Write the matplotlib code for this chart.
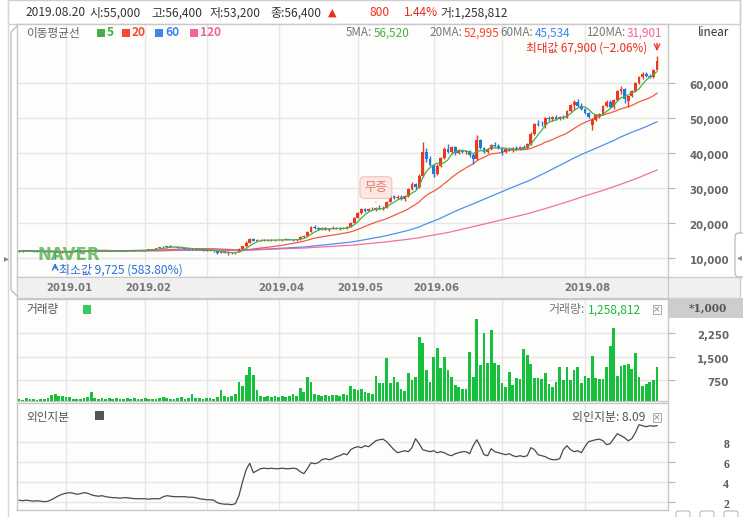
import numpy as np
import pandas as pd
import matplotlib
matplotlib.use('Agg')
import matplotlib.pyplot as plt
import matplotlib.transforms as mtrans
from matplotlib.patches import Rectangle, FancyBboxPatch

plt.rcParams['font.family'] = ['Noto Sans CJK KR', 'DejaVu Sans']

# ---------------- data ----------------
start_date = '2018-12-11'
holidays = ['2018-12-25', '2018-12-31', '2019-01-01', '2019-02-04', '2019-02-05',
            '2019-02-06', '2019-03-01', '2019-05-01', '2019-05-06', '2019-06-06',
            '2019-08-15']
month_tick_labels = ['2019.01', '2019.02', '', '2019.04', '2019.05', '2019.06', '', '2019.08']

opens = [12100, 12000, 12150, 12300, 12050, 11900, 12000, 11850, 11700, 11800,
         12100, 11600, 11750, 11900, 11800, 11950, 12200, 12100, 12150, 12050,
         12150, 12500, 12300, 12200, 12250, 12150, 12200, 12100, 12200, 12100,
         12250, 12350, 12250, 12300, 12200, 12300, 12400, 12500, 12600, 12800,
         13200, 13100, 13400, 13300, 13200, 13000, 12900, 12700, 12600, 12800,
         12600, 12400, 12500, 12200, 12300, 12000, 11600, 11900, 11500, 11700,
         11400, 11800, 12600, 13400, 14500, 15400, 15000, 15200, 15100, 15300,
         15100, 15200, 15300, 15200, 15300, 15400, 15300, 15100, 15400, 16100,
         16400, 17600, 18900, 18600, 18400, 18600, 18200, 18400, 18700, 18500,
         18600, 18500, 19000, 20200, 21600, 22900, 24000, 23600, 24100, 24000,
         24400, 24200, 24500, 26200, 27900, 27200, 27600, 26900, 27700, 29800,
         31300, 30300, 33500, 40500, 38500, 36600, 34000, 36500, 38600, 41200,
         40500, 41800, 40100, 40700, 40400, 40600, 39500, 38300, 43800, 41500,
         40300, 41200, 42500, 42000, 41500, 40300, 41100, 40800, 41600, 41300,
         41800, 41500, 42700, 45600, 48300, 48200, 48000, 50000, 49700, 50300,
         49900, 50500, 50200, 52200, 53700, 54800, 53600, 52700, 51500, 48200,
         49500, 50900, 51200, 53500, 54800, 53300, 55200, 57800, 58500, 55000,
         56400, 57900, 60200, 61800, 62600, 62200, 61700, 63900]
highs = [12300, 12250, 12400, 12350, 12200, 12100, 12150, 12000, 11900, 12200,
         12150, 11900, 12000, 12050, 12000, 12300, 12350, 12250, 12300, 12200,
         12700, 12600, 12400, 12350, 12400, 12300, 12350, 12250, 12300, 12300,
         12450, 12450, 12400, 12450, 12350, 12500, 12600, 12700, 12900, 13300,
         13600, 13500, 13700, 13500, 13400, 13200, 13000, 12900, 12900, 12900,
         12700, 12600, 12600, 12400, 12350, 12100, 12000, 12000, 11800, 11800,
         11900, 12800, 13600, 14800, 15900, 15700, 15400, 15500, 15400, 15500,
         15400, 15600, 15500, 15400, 15700, 15600, 15500, 15500, 16300, 16700,
         17800, 19200, 19500, 18900, 18800, 18800, 18600, 19200, 18900, 18800,
         18900, 19100, 20500, 21900, 23200, 24400, 24500, 24300, 24600, 24700,
         25200, 24800, 26500, 28200, 28200, 28100, 28000, 28000, 30100, 31700,
         31500, 34000, 43300, 41500, 39200, 36800, 36900, 39000, 41700, 42600,
         42200, 42000, 41200, 41200, 40900, 40900, 40100, 45200, 44200, 41900,
         41600, 42800, 43200, 42600, 41700, 41400, 41800, 41900, 42100, 42000,
         42300, 43000, 46000, 48800, 49600, 49200, 50500, 50800, 50600, 51000,
         50800, 51000, 52500, 54100, 55300, 55500, 54300, 53000, 51900, 50000,
         51200, 51600, 53800, 55300, 55100, 55500, 58200, 59200, 58800, 56400,
         58200, 60500, 62200, 63300, 63200, 62600, 64200, 67900]
lows = [11900, 11850, 12000, 12000, 11800, 11750, 11800, 11600, 11500, 11700,
        9725, 11400, 11650, 11700, 11650, 11900, 12000, 11950, 12000, 11900,
        12100, 12200, 12100, 12050, 12100, 12000, 12050, 11950, 12050, 12000,
        12150, 12200, 12100, 12150, 12100, 12200, 12300, 12400, 12500, 12700,
        13000, 13000, 13200, 13100, 12900, 12800, 12600, 12500, 12400, 12500,
        12300, 12200, 12100, 12000, 11900, 11300, 11500, 11400, 11000, 11200,
        11300, 11700, 12500, 13300, 14300, 14800, 14800, 15000, 14900, 15000,
        14900, 15000, 15100, 14900, 15100, 15200, 15000, 15000, 15300, 15900,
        16300, 17400, 18300, 18200, 18100, 18000, 17900, 18300, 18300, 18200,
        18300, 18400, 18900, 20000, 21400, 22700, 23300, 23400, 23800, 23600,
        24000, 23700, 24300, 26000, 26900, 26800, 26700, 26500, 27500, 29500,
        29800, 30000, 33300, 37500, 36300, 33300, 33800, 36200, 38300, 40000,
        39800, 39500, 39700, 40100, 39900, 39000, 37000, 38100, 41200, 40000,
        40000, 41000, 41800, 41200, 39500, 40000, 40600, 40500, 41000, 40900,
        41200, 41300, 42500, 45300, 47800, 47700, 47200, 49300, 49300, 49600,
        49500, 49800, 50000, 51800, 52500, 53300, 52400, 51200, 50000, 46700,
        49300, 50200, 51000, 53200, 53000, 52800, 55000, 57000, 54400, 53200,
        56100, 57600, 59800, 61300, 61800, 61400, 61500, 63700]
closes = [12000, 12150, 12300, 12050, 11900, 12000, 11850, 11700, 11800, 12100,
          11600, 11750, 11900, 11800, 11950, 12200, 12100, 12150, 12050, 12150,
          12500, 12300, 12200, 12250, 12150, 12200, 12100, 12200, 12100, 12250,
          12350, 12250, 12300, 12200, 12300, 12400, 12500, 12600, 12800, 13200,
          13100, 13400, 13300, 13200, 13000, 12900, 12700, 12600, 12800, 12600,
          12400, 12500, 12200, 12300, 12000, 11600, 11900, 11500, 11700, 11400,
          11800, 12600, 13400, 14500, 15400, 15000, 15200, 15100, 15300, 15100,
          15200, 15300, 15200, 15300, 15400, 15300, 15100, 15400, 16100, 16400,
          17600, 18900, 18600, 18400, 18600, 18200, 18400, 18700, 18500, 18600,
          18500, 19000, 20200, 21600, 22900, 24000, 23600, 24100, 24000, 24400,
          24200, 24500, 26200, 27900, 27200, 27600, 26900, 27700, 29800, 31300,
          30300, 33500, 40500, 38500, 36600, 34000, 36500, 38600, 41200, 40500,
          41800, 40100, 40700, 40400, 40600, 39500, 38300, 43800, 41500, 40300,
          41200, 42500, 42000, 41500, 40300, 41100, 40800, 41600, 41300, 41800,
          41500, 42700, 45600, 48300, 48200, 48000, 50000, 49700, 50300, 49900,
          50500, 50200, 52200, 53700, 54800, 53600, 52700, 51500, 50300, 49500,
          50900, 51200, 53500, 54800, 53300, 55200, 57800, 58500, 55600, 56400,
          57900, 60200, 61800, 62600, 62200, 61700, 63900, 66500]
volume_k = [150, 120, 160, 130, 140, 110, 150, 130, 160, 280,
            300, 240, 220, 200, 210, 150, 130, 140, 160, 200,
            350, 180, 150, 170, 140, 160, 130, 180, 150, 140,
            170, 130, 160, 150, 140, 160, 140, 150, 130, 180,
            210, 160, 150, 140, 170, 200, 150, 160, 300, 180,
            170, 150, 160, 180, 140, 200, 430, 230, 200, 220,
            300, 700, 570, 910, 1160, 910, 430, 220, 210, 230,
            200, 240, 210, 230, 200, 250, 300, 230, 480, 350,
            840, 700, 300, 280, 250, 270, 240, 260, 280, 230,
            300, 260, 560, 450, 430, 450, 350, 320, 300, 880,
            640, 650, 1450, 640, 840, 670, 450, 400, 990, 750,
            860, 2120, 1930, 1070, 700, 1500, 1770, 1125, 1500, 1070,
            860, 590, 540, 450, 450, 1660, 860, 2700, 1230, 2250,
            1290, 2360, 1290, 1230, 640, 540, 1020, 590, 800, 770,
            1735, 1550, 1260, 800, 800, 770, 960, 620, 540, 700,
            1160, 750, 1180, 750, 1070, 1160, 660, 880, 800, 1520,
            800, 770, 770, 1160, 1840, 2410, 880, 1200, 1230, 1259,
            1090, 1610, 840, 560, 620, 700, 750, 1160]
foreign_pct = [2.15, 2.1, 2.15, 2.1, 2.05, 2.1, 2.05, 2.0, 2.05, 2.2,
               2.4, 2.6, 2.75, 2.85, 2.9, 2.85, 2.75, 2.8, 2.9, 2.85,
               2.7, 2.6, 2.55, 2.6, 2.5, 2.45, 2.4, 2.4, 2.35, 2.4,
               2.4, 2.35, 2.3, 2.3, 2.3, 2.3, 2.25, 2.3, 2.3, 2.3,
               2.5, 2.6, 2.55, 2.5, 2.5, 2.5, 2.5, 2.45, 2.45, 2.4,
               2.3, 2.25, 2.2, 2.2, 2.15, 1.9, 1.8, 1.75, 1.75, 1.7,
               1.8, 2.6, 4.0, 5.2, 5.85, 4.9, 5.1, 5.3, 5.35, 5.3,
               5.35, 5.3, 5.3, 5.35, 5.3, 5.3, 5.35, 5.3, 5.0, 4.8,
               5.3, 5.9, 5.8, 5.9, 6.2, 6.3, 6.2, 6.3, 6.5, 6.6,
               6.8, 6.7, 7.2, 7.4, 7.5, 7.4, 7.6, 7.5, 7.8, 8.1,
               8.2, 8.25, 8.0, 7.6, 7.2, 6.9, 7.0, 7.1, 7.0, 7.4,
               8.3, 7.8, 7.2, 7.1, 7.0, 7.1, 6.9, 7.0, 6.9, 6.7,
               6.6, 6.8, 6.9, 7.0, 7.0, 6.8, 7.6, 8.2, 7.5, 6.7,
               6.6, 7.3, 7.0, 6.9, 6.8, 6.7, 6.8, 6.6, 6.5, 6.6,
               6.5, 6.6, 7.4, 7.2, 6.7, 6.6, 6.5, 6.3, 6.2, 6.2,
               6.3, 7.2, 7.6, 7.2, 7.0, 7.1, 6.9, 7.5, 8.0, 8.1,
               8.2, 8.25, 8.1, 7.7, 7.8, 8.3, 8.8, 8.6, 8.4, 8.09,
               8.3, 8.9, 9.7, 9.6, 9.5, 9.6, 9.55, 9.6]

ma_periods = [5, 20, 60, 120]
ma_header_values = [56520, 52995, 45534, 31901]
price_ticks = [10000, 20000, 30000, 40000, 50000, 60000]
volume_ticks = [750, 1500, 2250]
foreign_ticks = [2, 4, 6, 8]

header_date = '2019.08.20'
header_fields = [('시', 55000), ('고', 56400), ('저', 53200), ('종', 56400)]
header_change = 800
header_change_pct = 1.44
header_volume = 1258812
header_foreign = 8.09
event_label = '무증'
event_index = 99

# ---------------- colors ----------------
UP = '#f0361f'
DOWN = '#1f77e0'
MA_COLORS = ['#46b046', '#f4482f', '#3d86ec', '#f4609a']
VOL_GREEN = '#17c03b'
GRID = '#e6e6e6'
SPINE = '#c8c8c8'
PLOTBG = '#fdfdfb'

W, H = 743, 517
N = len(closes)
x = np.arange(N)
o = np.array(opens, float); h = np.array(highs, float)
l = np.array(lows, float); c = np.array(closes, float)

dates = pd.bdate_range(start_date, periods=N, freq='C', holidays=holidays)
months = dates.to_period('M')
month_idx = [i for i in range(1, N) if months[i] != months[i - 1]]

XLIM = (-0.58, 180.05)

fig = plt.figure(figsize=(W / 100, H / 100), dpi=100)
fig.patch.set_facecolor('#ffffff')


def rect(x0, y0, x1, y1):
    return [x0 / W, 1 - y1 / H, (x1 - x0) / W, (y1 - y0) / H]


# background layer
bg = fig.add_axes([0, 0, 1, 1], zorder=0)
bg.set_xlim(0, W); bg.set_ylim(H, 0); bg.axis('off')
bg.add_patch(Rectangle((8, 0), 732, 24, fc='#ffffff', ec='#cfcfcf', lw=1))
bg.add_patch(Rectangle((17, 277), 723, 21, fc='#f0f0f0', ec='#cfcfcf', lw=1))
bg.add_patch(Rectangle((668, 298), 75, 20, fc='#cdcdcd', ec='none'))
bg.plot([740, 740], [0, 277], color='#cfcfcf', lw=1)
bg.plot([8, 8], [0, 517], color='#d8d8d8', lw=1)


def style_panel(ax, yt, ylim):
    ax.set_facecolor(PLOTBG)
    ax.set_xlim(*XLIM)
    ax.set_ylim(*ylim)
    ax.set_yticks(yt)
    ax.set_xticks(month_idx)
    ax.grid(True, color=GRID, lw=1)
    ax.set_axisbelow(True)
    ax.tick_params(axis='x', length=0, labelbottom=False)
    ax.tick_params(axis='y', left=False, right=True, direction='out', length=5,
                   color='#b5b5b5', labelleft=False, labelright=False)
    for s in ax.spines.values():
        s.set_color(SPINE)
        s.set_linewidth(1)


def right_labels(ax, vals, texts, xpx, **kw):
    trans = mtrans.blended_transform_factory(ax.transAxes, ax.transData)
    trans = mtrans.offset_copy(trans, fig=fig, x=0, y=-3, units='dots')
    bb = ax.get_position()
    xa = (xpx / W - bb.x0) / bb.width
    for v, t in zip(vals, texts):
        ax.text(xa, v, t, transform=trans, ha='right', va='center', clip_on=False, **kw)


# ---------------- main price panel ----------------
ax = fig.add_axes(rect(17, 24, 668, 277), zorder=2)
style_panel(ax, price_ticks, (4657, 76943))
colors = np.where(c >= o, UP, DOWN)
ax.vlines(x, l, h, colors=colors, lw=1.0, zorder=3)
ax.bar(x, np.maximum(np.abs(c - o), 130), bottom=np.minimum(o, c), width=0.78,
       color=colors, lw=0, zorder=4)
cs = pd.Series(c)
for p, col in zip(ma_periods, MA_COLORS):
    ax.plot(x, cs.rolling(p, min_periods=1).mean(), color=col, lw=0.9,
            alpha=0.9 if p != 5 else 1.0, zorder=5 if p == 5 else 2)
right_labels(ax, price_ticks, [f'{v:,}' for v in price_ticks], 729,
             fontsize=7.4, fontweight='bold', color='#666', family='DejaVu Sans')

# max / min markers
imax = int(np.argmax(h)); imin = int(np.argmin(l))
vmax = h[imax]; vmin = l[imin]; last = c[-1]
ax.annotate('', xy=(imax, vmax + 500), xytext=(imax, vmax + 4300),
            arrowprops=dict(arrowstyle='->', color=UP, lw=1.0), zorder=6)
ax.text(imax - 2.8, vmax + 2300,
        f'최대값 {vmax:,.0f} ({(last / vmax - 1) * 100:.2f}%)'.replace('-', '−'),
        ha='right', va='center', color='#ee2b1c', fontsize=8.4, zorder=6)
ax.annotate('', xy=(imin, vmin - 300), xytext=(imin, vmin - 3400),
            arrowprops=dict(arrowstyle='->', color='#2a6fdc', lw=1.0), zorder=6)
ax.text(imin + 1.2, vmin - 3100, f'최소값 {vmin:,.0f} ({(last / vmin - 1) * 100:.2f}%)',
        ha='left', va='center', color='#2a6fdc', fontsize=8.6, zorder=6)
ax.text(5.2, 11000, 'NAVER', color='#55b34f', alpha=0.8, fontsize=12,
        fontweight='bold', family='DejaVu Sans', va='center', ha='left', zorder=7)

# event box
ev_y = h[event_index] + 2500
ax.annotate(event_label, xy=(event_index, h[event_index] + 1200),
            xytext=(event_index, ev_y + 3000), ha='center', va='center',
            color='#e47b68', fontsize=9, zorder=8,
            bbox=dict(boxstyle='round,pad=0.35', fc='#fde7e2', ec='#f5c3b8', lw=0.8),
            arrowprops=dict(arrowstyle='-', color='#f0b0a0', lw=0.8))

# ---------------- date strip ----------------
axd = fig.add_axes(rect(17, 277, 668, 298), zorder=2)
axd.set_xlim(*XLIM); axd.set_ylim(0, 1)
axd.set_facecolor('#f0f0f0')
axd.set_xticks([]); axd.set_yticks([])
for s in axd.spines.values():
    s.set_color(SPINE)
for mi, lab in zip(month_idx, month_tick_labels):
    if lab:
        axd.text(mi + 0.8, 0.48, lab, ha='center', va='center', color='#777',
                 fontsize=7.3, fontweight='bold', family='DejaVu Sans')

# ---------------- volume panel ----------------
axv = fig.add_axes(rect(17, 299, 668, 401), zorder=2)
style_panel(axv, volume_ticks, (74, 3353))
axv.bar(x, volume_k, width=0.76, color=VOL_GREEN, lw=0, zorder=3)
right_labels(axv, volume_ticks, [f'{v:,}' for v in volume_ticks], 729,
             fontsize=7.4, fontweight='bold', color='#666', family='DejaVu Sans')

# ---------------- foreign ownership panel ----------------
axf = fig.add_axes(rect(17, 403, 668, 510), zorder=2)
style_panel(axf, foreign_ticks, (1.17, 11.87))
axf.plot(x, foreign_pct, color='#4a4a4a', lw=0.9, zorder=3)
right_labels(axf, foreign_ticks, [str(v) for v in foreign_ticks], 729,
             fontsize=8.5, fontweight='bold', color='#555', family='Liberation Serif')

# ---------------- overlay texts ----------------
top = fig.add_axes([0, 0, 1, 1], zorder=10)
top.set_xlim(0, W); top.set_ylim(H, 0); top.axis('off')
top.patch.set_alpha(0)


def T(xp, yp, s, color='#333', size=8.6, ha='left', weight='normal', family=None):
    kw = {}
    if family:
        kw['family'] = family
    top.text(xp, yp, s, color=color, fontsize=size, ha=ha, va='center',
             fontweight=weight, **kw)


# header row
T(26, 13, header_date)
hx = [90, 151, 210, 270]
for (lab, val), xp in zip(header_fields, hx):
    T(xp, 13, f'{lab}:{val:,}')
T(328, 13, '▲', color='#ee2b1c', size=8, family='DejaVu Sans')
T(369, 13, f'{header_change}', color='#ee2b1c')
T(404, 13, f'{header_change_pct:.2f}%', color='#ee2b1c')
T(440, 13, f'거:{header_volume:,}')

# MA legend
T(26, 33, '이동평균선', color='#666', size=8.4)
sq_x = [97, 122, 155, 190]
for p, col, sx in zip(ma_periods, MA_COLORS, sq_x):
    top.add_patch(Rectangle((sx, 29), 8, 8, fc=col, ec='none'))
    T(sx + 10, 33, str(p), color=col, size=8.6, weight='bold')
T(714, 32, 'linear', color='#333', size=8.4, ha='center')

ma_lab_x = [372, 462, 533, 625]
for p, v, col, lx in zip(ma_periods, ma_header_values, MA_COLORS, ma_lab_x):
    T(lx, 33, f'{p}MA:', color='#777', ha='right', size=8.4)
    T(lx + 2, 33, f'{v:,}', color=col, size=8.4)

# volume header
T(26, 310, '거래량', color='#555', size=8.4)
top.add_patch(Rectangle((83, 305), 8, 9, fc='#3cc860', ec='none'))
T(585, 310, '거래량:', color='#777', ha='right')
T(588, 310, f'{header_volume:,}', color='#1fb83e')
T(727, 307.5, '*1,000', color='#555', size=7.6, ha='right', weight='bold', family='DejaVu Serif')

# foreign header
T(26, 417, '외인지분', color='#555', size=8.4)
top.add_patch(Rectangle((95, 411), 9, 9, fc='#555555', ec='none'))
T(645, 418, f'외인지분: {header_foreign}', color='#555', ha='right')

for yy in (310, 418):
    top.add_patch(Rectangle((653, yy - 5), 8, 9, fc='#fafafa', ec='#aaaaaa', lw=0.7))
    top.text(657, yy - 0.5, '×', color='#888', fontsize=6.5, ha='center', va='center',
             family='DejaVu Sans')

# side tabs & small buttons
top.plot([17, 11, 11, 17], [26, 32, 290, 296], color='#c0c0c0', lw=1)
top.text(6, 258, '▸', color='#888', fontsize=7, ha='center', va='center', family='DejaVu Sans')
top.add_patch(FancyBboxPatch((735, 233), 10, 44, boxstyle='round,pad=0,rounding_size=4',
                             fc='#ffffff', ec='#c0c0c0', lw=1))
top.text(739, 257, '◂', color='#888', fontsize=7, ha='center', va='center', family='DejaVu Sans')
for bx in (676, 700, 724):
    top.add_patch(FancyBboxPatch((bx, 511), 14, 8, boxstyle='round,pad=0,rounding_size=2',
                                 fc='#ffffff', ec='#bbbbbb', lw=0.8))

fig.savefig('out.png', dpi=100, facecolor=fig.get_facecolor())
